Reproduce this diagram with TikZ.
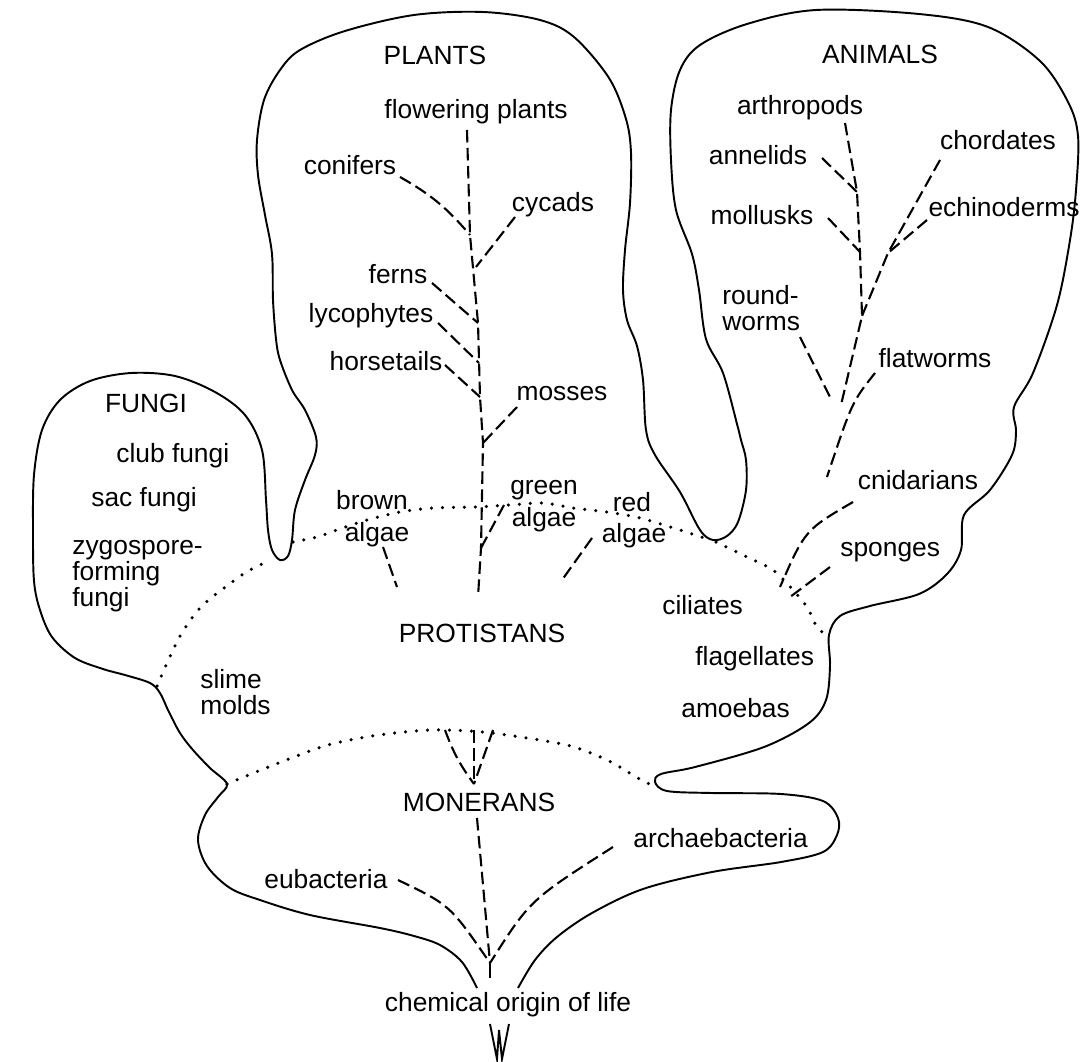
\documentclass[tikz,border=0pt]{standalone}
\usepackage{fontspec}
\setmainfont{Liberation Sans}
\begin{document}
\begin{tikzpicture}[x=0.2mm,y=-0.2mm,
  every node/.style={inner sep=0pt, font=\fontsize{15}{15}\selectfont},
  lbl/.style={anchor=center},
  lft/.style={anchor=west, align=left},
  outline/.style={line width=1.1pt, line join=round},
  branch/.style={line width=1.2pt, dash pattern=on 2.5mm off 1.1mm},
  border/.style={line width=2pt, line cap=round, dash pattern=on 0pt off 2.2mm},
  root/.style={line width=1.1pt}
]
\useasboundingbox (0,0) rectangle (1080,1061);
\fill[white] (0,0) rectangle (1080,1061);

% ---- outline of the tree of life ----
\draw[outline] plot[smooth, tension=0.55] coordinates {
 (477,988) (462,962) (440,945) (414,936) (380,928) (310,915) (260,900) (230,888)
 (207,866) (198,840) (205,815) (218,797) (227,784)
 (210,768) (193,750) (180,733) (168,710) (160,693) (150,683) (125,675) (103,669)
 (75,658) (52,637) (40,610) (34,581) (33,530) (34,475) (42,430) (60,400) (90,381)
 (131,373) (175,376) (215,392) (245,415) (262,450) (266,500) (268,530) (272,550)
 (280,560) (288,556) (292,540) (295,510) (305,480) (315,455) (316,437) (305,410)
 (292,390) (280,360) (276,339) (273,300) (272,254) (265,215) (258,175) (257,140)
 (264,100) (280,70) (300,50) (345,31) (414,15) (483,12) (540,20) (574,37) (609,78)
 (626,119) (631,153) (630,203) (625,250) (623,290) (627,320) (637,346) (643,380)
 (646,430) (655,455) (680,492) (700,530) (713,540) (727,536) (738,522) (746,490)
 (746,460) (741,440) (737,424) (723,373) (706,339) (699,290) (692,254) (676,210)
 (671,160) (671,110) (680,70) (700,45) (747,24) (816,10) (919,14) (988,27)
 (1040,61) (1068,102) (1078,136) (1076,190) (1070,240) (1057,305) (1033,373)
 (1014,407) (1016,431) (1012,455) (990,490) (964,515) (961,550) (947,574)
 (919,594) (870,606) (840,616) (829,635) (830,666) (826,700) (809,723) (764,747)
 (695,767) (661,774) (655,782) (667,791) (712,793) (781,794) (823,801) (838,818)
 (837,835) (823,852) (781,862) (712,872) (643,889) (592,913) (557,937) (535,960)
 (518,988)};

% ---- kingdom borders ----
\draw[border] plot[smooth] coordinates {(157,686) (179,638) (200,608) (224,588) (248,571) (269,561)};
\draw[border] plot[smooth] coordinates {(293,542) (317,537) (337,530) (367,520) (400,512) (433,508)
  (477,507) (510,505) (543,503) (573,508) (607,512) (640,518) (680,530) (710,540)};
\draw[border] plot[smooth] coordinates {(716,542) (747,557) (773,570) (793,590) (807,607) (817,627) (828,636)};
\draw[border] plot[smooth] coordinates {(227,784) (276,764) (328,745) (379,735) (431,730) (483,732)
  (540,740) (574,747) (609,761) (643,781) (656,786)};

% ---- labels ----
\node[lbl] (plants) at (435,55) {PLANTS};
\node[lbl] (animals) at (880,54) {ANIMALS};
\node[lbl] (fungi) at (146,403) {FUNGI};
\node[lbl] (protistans) at (482,633) {PROTISTANS};
\node[lbl] (monerans) at (479,802) {MONERANS};

\node[lbl] (flowering) at (476,112) {flowering plants};
\node[lbl] (conifers) at (350,165) {conifers};
\node[lbl] (cycads) at (553,205) {cycads};
\node[lbl] (ferns) at (398,274) {ferns};
\node[lbl] (lyco) at (371,316) {lycophytes};
\node[lbl] (horse) at (386,361) {horsetails};
\node[lbl] (mosses) at (562,394) {mosses};

\node[lft] (club) at (116,456) {club fungi};
\node[lft] (sac) at (91,500) {sac fungi};
\node[lft, font=\fontsize{15}{13.8}\selectfont] (zygo) at (72,576) {zygospore-\\forming\\fungi};

\node[lbl] (brown) at (372,500) {brown};
\node[lbl] (browna) at (377,535) {algae};
\node[lbl] (green) at (544,490) {green};
\node[lbl] (greena) at (544,520) {algae};
\node[lbl] (red) at (632,502) {red};
\node[lbl] (reda) at (634,536) {algae};

\node[lft] (slime) at (200,692) {slime\\molds};
\node[lft] (ciliates) at (662,605) {ciliates};
\node[lft] (flagellates) at (695,659) {flagellates};
\node[lft] (amoebas) at (681,708) {amoebas};

\node[lbl] (arthropods) at (800,108) {arthropods};
\node[lbl] (annelids) at (758,155) {annelids};
\node[lbl] (chordates) at (998,140) {chordates};
\node[lbl] (echino) at (1004,207) {echinoderms};
\node[lbl] (mollusks) at (762,215) {mollusks};
\node[lft] (round) at (722,308) {round-\\worms};
\node[lbl] (flatworms) at (935,358) {flatworms};
\node[lbl] (cnidarians) at (918,480) {cnidarians};
\node[lft] (sponges) at (840,552) {sponges};

\node[lft] (eubacteria) at (264,879) {eubacteria};
\node[lft] (archae) at (633,838) {archaebacteria};
\node[lbl] (origin) at (508,1005) {chemical origin of life};

% ---- plant lineages ----
\coordinate (ps0) at (467,130);
\coordinate (ps1) at (470,235);
\coordinate (ps2) at (476,267);
\coordinate (ps3) at (478,323);
\coordinate (ps4) at (479,363);
\coordinate (ps5) at (480,397);
\coordinate (ps6) at (483,443);
\coordinate (ps7) at (481,548);
\coordinate (ps8) at (478,597);
\draw[branch] (ps0) -- (ps1) -- (ps3) -- (ps5) -- (ps6) -- (ps7) -- (ps8);

\coordinate (cf) at (400,177);
\coordinate (cy) at (515,217);
\coordinate (fe) at (432,283);
\coordinate (ly) at (438,323);
\coordinate (ho) at (445,365);
\coordinate (mo) at (517,407);
\coordinate (ga) at (504,505);
\coordinate (ba) at (383,547);
\coordinate (bae) at (397,587);
\coordinate (ra) at (592,538);
\coordinate (rae) at (562,580);
\draw[branch] (cf) to[bend left=10] (ps1);
\draw[branch] (cy) -- (ps2);
\draw[branch] (fe) -- (ps3);
\draw[branch] (ly) -- (ps4);
\draw[branch] (ho) -- (ps5);
\draw[branch] (mo) -- (ps6);
\draw[branch] (ga) -- (ps7);
\draw[branch] (ba) -- (bae);
\draw[branch] (ra) -- (rae);

% ---- animal lineages ----
\coordinate (as0) at (845,123);
\coordinate (as1) at (857,192);
\coordinate (as2) at (860,252);
\coordinate (as3) at (862,316);
\coordinate (as4) at (841,405);
\draw[branch] (as0) -- (as1) -- (as2) -- (as3) -- (as4);

\coordinate (an) at (822,158);
\coordinate (ml) at (828,218);
\coordinate (ch) at (940,160);
\coordinate (chj) at (888,253);
\coordinate (ec) at (927,220);
\coordinate (rw) at (800,337);
\coordinate (rwe) at (830,397);
\coordinate (fw) at (875,373);
\coordinate (fwe) at (827,477);
\coordinate (cn) at (853,502);
\coordinate (cne) at (780,587);
\coordinate (sp) at (830,567);
\coordinate (spe) at (790,597);
\draw[branch] (an) -- (as1);
\draw[branch] (ml) -- (as2);
\draw[branch] (ch) -- (chj) -- (as3);
\draw[branch] (ec) -- (chj);
\draw[branch] (rw) -- (rwe);
\draw[branch] (fw) .. controls (852,402) .. (fwe);
\draw[branch] (cn) .. controls (805,530) .. (cne);
\draw[branch] (sp) -- (spe);

% ---- moneran lineages ----
\coordinate (mf) at (474,784);
\coordinate (fl) at (445,730);
\coordinate (fm) at (474,730);
\coordinate (fr) at (493,730);
\draw[branch] (fl) to[bend right=8] (mf);
\draw[branch] (fm) -- (mf);
\draw[branch] (fr) -- (mf);

\coordinate (mst) at (477,818);
\coordinate (base) at (490,963);
\coordinate (eu) at (398,880);
\coordinate (ar) at (613,847);
\draw[branch] (mst) -- (base);
\draw[branch] (eu) .. controls (450,905) .. (base);
\draw[branch] (ar) .. controls (530,900) .. (base);
\coordinate (basee) at (490,978);
\draw[root] (base) -- (basee);

% ---- roots below the origin of life ----
\draw[root] (490,1024) -- (497,1059) -- (499,1030) -- (502,1059) -- (509,1024);
\end{tikzpicture}
\end{document}
